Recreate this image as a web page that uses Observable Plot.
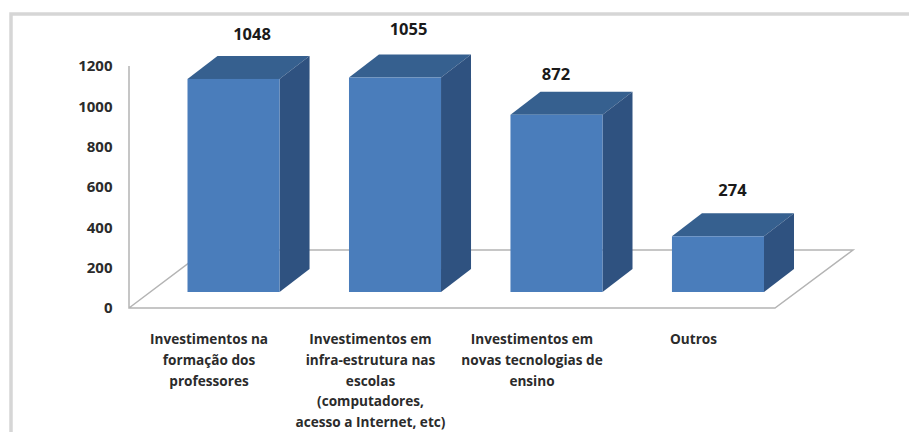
<!DOCTYPE html>
<html><head><meta charset="utf-8">
<script src="https://cdn.jsdelivr.net/npm/d3@7"></script>
<script src="https://cdn.jsdelivr.net/npm/@observablehq/plot@0.6"></script>
<style>html,body{margin:0;background:#fff}svg{display:block}</style>
</head><body><div id="chart"></div>
<script>
const categories = ["Formação","Infra-estrutura","Novas tecnologias","Outros"];
const values = [1048,1055,872,274];
const axisLabels = [
  "Investimentos na\nformação dos\nprofessores",
  "Investimentos em\ninfra-estrutura nas\nescolas\n(computadores,\nacesso a Internet, etc)",
  "Investimentos em\nnovas tecnologias de\nensino",
  "Outros"];
const yTicks = [0,200,400,600,800,1000,1200];

const rows = categories.map((c,i)=>({c,v:values[i],label:axisLabels[i]}));
const FONT = "'Open Sans', sans-serif";
const svgEl = n => document.createElementNS("http://www.w3.org/2000/svg", n);

function poly(parent, before, pts, fill){
  const p = svgEl("polygon");
  p.setAttribute("points", pts.map(d=>d.join(",")).join(" "));
  p.setAttribute("fill", fill);
  parent.insertBefore(p, before);
}
// Picture border: light grey at the top and on the left
function borderMark(index, scales, channels, {width, height}){
  const p = svgEl("path");
  p.setAttribute("d", `M11,${height}V14H${width}`);
  p.setAttribute("fill","none");
  p.setAttribute("stroke","#d6d6d6");
  p.setAttribute("stroke-width",3.5);
  return p;
}
// Floor and value axis line of the 3D chart
function floorMark(index, {y}, channels, {width, marginLeft, marginRight}){
  const x0 = marginLeft, x1 = width - marginRight, y0 = y(0);
  const path = svgEl("path");
  path.setAttribute("d", `M${x0},${y(1200)}V${y0}H${x1}L${x1+78},${y0-58}H${x0+77}L${x0},${y0}`);
  path.setAttribute("fill","#fff");
  path.setAttribute("stroke","#b4b4b4");
  path.setAttribute("stroke-width",1.5);
  return path;
}
// The library draws the front face; the top and side faces follow from each rect
function bar3d(index, scales, channels, dimensions, context, next){
  const g = next(index, scales, channels, dimensions, context);
  const lift = 16, dx = 30, dy = 23, stretch = 1.008;
  for (const rect of g.querySelectorAll("rect")){
    const l = +rect.getAttribute("x"), r = l + +rect.getAttribute("width");
    const h = +rect.getAttribute("height") * stretch;
    const b = scales.y(0) - lift, t = b - h;
    rect.setAttribute("y", t);
    rect.setAttribute("height", h);
    const parent = rect.parentNode;
    poly(parent, rect, [[l,t],[l+dx,t-dy],[r+dx,t-dy],[r,t]], "#36608f");
    poly(parent, rect, [[r,t],[r+dx,t-dy],[r+dx,b-dy],[r,b]], "#2f5280");
  }
  return g;
}
const valueLabel = (i,dx,dy) => Plot.text([rows[i]], {x:"c", y:"v", text:d=>String(d.v), dx, dy,
  fontFamily:FONT, fontWeight:700, fontSize:16.5, fill:"#1a1a1a"});

const chart = Plot.plot({
  width:909, height:432,
  marginLeft:129, marginRight:134, marginTop:0, marginBottom:0,
  style:{background:"#fff"},
  x:{type:"band", domain:categories, range:[187.5,764], round:false, paddingInner:0.43, paddingOuter:0, axis:null},
  y:{domain:[0,1200], range:[308,66], axis:null},
  marks:[
    borderMark,
    floorMark,
    Plot.barY(rows,{x:"c",y:"v",fill:"#4a7dbb",inset:0,render:bar3d}),
    Plot.axisY({ticks:yTicks, tickFormat:d=>String(d), tickSize:0, tickPadding:17, fontFamily:FONT, fontWeight:700, fontSize:15, fill:"#2b2b2b", label:null}),
    Plot.text(rows,{x:"c",text:"label",frameAnchor:"top",lineAnchor:"top",dx:-25,dy:329,lineHeight:1.52,
      fontFamily:FONT,fontWeight:700,fontSize:13.6,fill:"#2b2b2b"}),
    valueLabel(0,18,-62.6),
    valueLabel(1,13,-66),
    valueLabel(2,-1,-58),
    valueLabel(3,14,-62.7)
  ]
});
document.getElementById("chart").appendChild(chart);
</script></body></html>
